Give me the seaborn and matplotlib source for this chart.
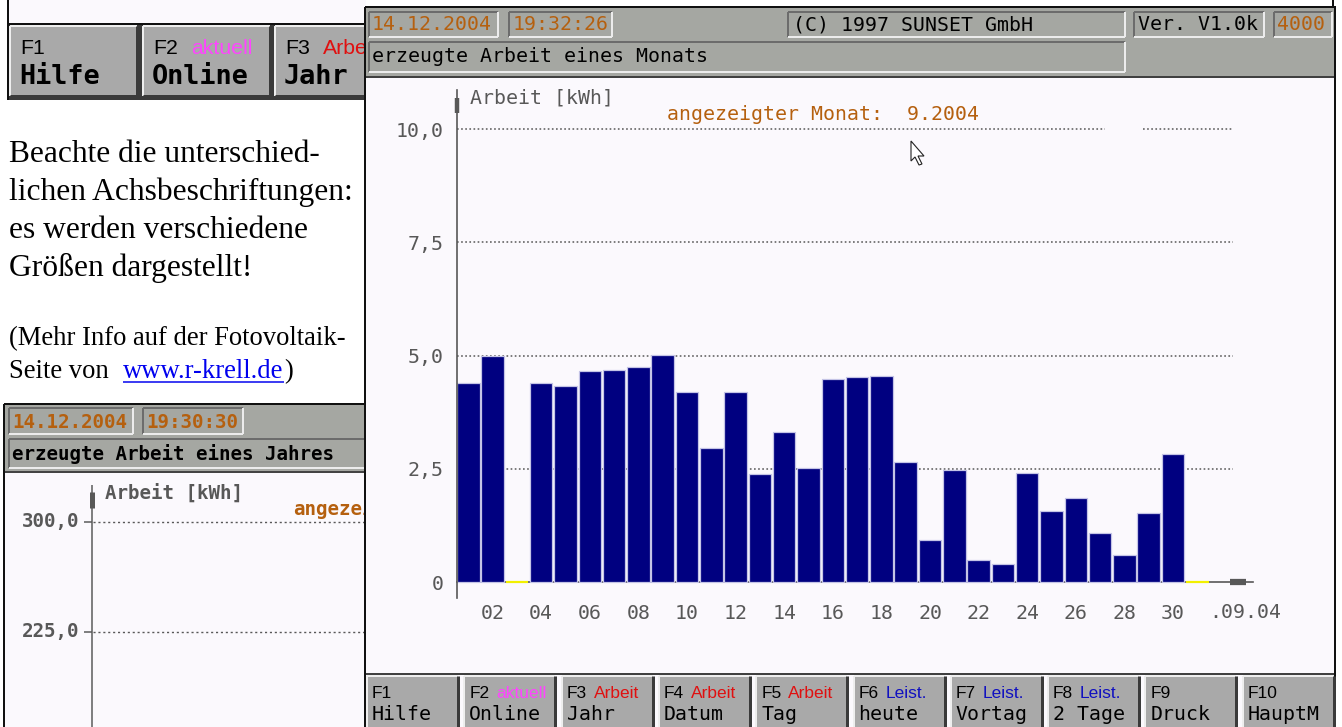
import numpy as np
import pandas as pd
import matplotlib
matplotlib.use("Agg")
import matplotlib.pyplot as plt
import seaborn as sns
from matplotlib.patches import Rectangle, Polygon
from matplotlib.lines import Line2D

# ---------------- data ----------------
days = [f"{d:02d}" for d in range(1, 32)]
kwh = [4.39, 4.99, 0.00, 4.39, 4.32, 4.65, 4.69, 4.75, 5.02, 4.19,
       2.95, 4.19, 2.38, 3.32, 2.52, 4.48, 4.52, 4.55, 2.66, 0.92,
       2.47, 0.49, 0.39, 2.40, 1.56, 1.86, 1.09, 0.59, 1.53, 2.83, 0.00]
y_ticks = [0, 2.5, 5.0, 7.5, 10.0]
y_tick_labels = ["0", "2,5", "5,0", "7,5", "10,0"]
month_suffix = ".09.04"
y_title = "Arbeit [kWh]"
shown_month = "angezeigter Monat:  9.2004"

fkeys = ["F1", "F2", "F3", "F4", "F5", "F6", "F7", "F8", "F9", "F10"]
fsub = ["", "aktuell", "Arbeit", "Arbeit", "Arbeit", "Leist.", "Leist.", "Leist.", "", ""]
fnames = ["Hilfe", "Online", "Jahr", "Datum", "Tag", "heute", "Vortag", "2 Tage", "Druck", "HauptM"]

left_lines = ["Beachte die unterschied-", "lichen Achsbeschriftungen:",
              "es werden verschiedene", "Größen dargestellt!"]

# ---------------- style ----------------
W, H = 1342, 727
HEADER_GRAY = "#a5a7a2"
BUTTON_GRAY = "#a9a9a9"
ORANGE = "#b5600f"
AXIS_GRAY = "#585858"
SCREEN_BG = "#fbf9fd"
NAVY = "#000080"
MONO = "DejaVu Sans Mono"
SANS = "Liberation Sans"
SERIF = "Liberation Serif"
PT = 0.72  # px -> pt at dpi 100

sns.set_style("white")
plt.rcParams["font.family"] = ["DejaVu Sans Mono", "DejaVu Sans"]

fig = plt.figure(figsize=(W / 100, H / 100), dpi=100)
fig.patch.set_facecolor("white")


def fx(x):
    return x / W


def fy(y):
    return 1 - y / H


def rect(x0, y0, x1, y1, fc, ec="none", lw=0, z=-5):
    fig.add_artist(Rectangle((fx(x0), fy(y1)), (x1 - x0) / W, (y1 - y0) / H,
                             transform=fig.transFigure, facecolor=fc,
                             edgecolor=ec, linewidth=lw * PT, zorder=z))


def line(x0, y0, x1, y1, c, lw=1, z=-4, ls="-"):
    fig.add_artist(Line2D([fx(x0), fx(x1)], [fy(y0), fy(y1)],
                          transform=fig.transFigure, color=c,
                          linewidth=lw * PT, zorder=z, linestyle=ls,
                          solid_capstyle="butt"))


def text(x, y, s, size, color="black", family=MONO, weight="normal",
         ha="left", va="center", z=3):
    fig.text(fx(x), fy(y), s, fontsize=size, color=color, family=family,
             fontweight=weight, ha=ha, va=va, zorder=z)


def field(x0, y0, x1, y1, z):
    rect(x0, y0, x1, y1, HEADER_GRAY, z=z)
    line(x0, y0, x1, y0, "#6c6c6c", 2, z=z + 0.1)
    line(x0, y0, x0, y1, "#6c6c6c", 2, z=z + 0.1)
    line(x0, y1, x1, y1, "#ececec", 2, z=z + 0.1)
    line(x1, y0, x1, y1, "#ececec", 2, z=z + 0.1)


def button(x0, y0, x1, y1, z):
    rect(x0, y0, x1, y1, BUTTON_GRAY, z=z)
    line(x0, y0, x1, y0, "#eeeeee", 2, z=z + 0.1)
    line(x0, y0, x0, y1, "#eeeeee", 2, z=z + 0.1)
    line(x0, y1, x1, y1, "#3a3a3a", 3, z=z + 0.1)
    line(x1, y0, x1, y1, "#3a3a3a", 3, z=z + 0.1)


# ---------------- left page: top screenshot strip ----------------
ZL = -20
rect(8, 0, 366, 24, SCREEN_BG, z=ZL)
line(8, 0, 8, 100, "#111111", 2, z=ZL + 0.5)
line(8, 24, 366, 24, "#111111", 2, z=ZL + 0.5)
rect(8, 25, 366, 100, "#3a3a3a", z=ZL)
top_btn_x = [10, 143, 275]
sub_cols_top = ["black", "#ff44ff", "#e01010"]
for k, bx in enumerate(top_btn_x):
    button(bx, 26, bx + 127, 96, ZL + 1)
    text(bx + 10, 48, fkeys[k], 15.3, family=SANS, z=ZL + 2)
    if fsub[k]:
        text(bx + 48, 48, fsub[k], 15.3, color=sub_cols_top[k], family=SANS, z=ZL + 2)
    text(bx + 9, 77, fnames[k], 19.4, weight="bold", z=ZL + 2)

# body text
baselines = [162, 200, 238, 276]
for s, b in zip(left_lines, baselines):
    text(9, b, s, 22.7, family=SERIF, va="baseline", z=ZL + 2)
text(9, 345, "(Mehr Info auf der Fotovoltaik-", 19.2, family=SERIF, va="baseline", z=ZL + 2)
text(9, 378, "Seite von", 19.2, family=SERIF, va="baseline", z=ZL + 2)
text(123, 378, "www.r-krell.de", 19.2, color="#0000ee", family=SERIF, va="baseline", z=ZL + 2)
text(284, 378, ")", 19.2, family=SERIF, va="baseline", z=ZL + 2)
line(123, 382, 284, 382, "#0000ee", 1.5, z=ZL + 2)

# ---------------- left page: bottom screenshot ----------------
ZB = -18
rect(4, 404, 366, 473, HEADER_GRAY, z=ZB)
rect(5, 473, 366, 727, SCREEN_BG, z=ZB)
line(4, 404, 366, 404, "#111111", 2, z=ZB + 0.5)
line(4, 404, 4, 727, "#111111", 2, z=ZB + 0.5)
line(5, 472, 366, 472, "#444444", 2, z=ZB + 0.5)
field(9, 408, 133, 434, ZB + 1)
field(143, 408, 243, 434, ZB + 1)
field(9, 439, 380, 468, ZB + 1)
text(12, 422, "14.12.2004", 13.8, color=ORANGE, weight="bold", z=ZB + 2)
text(146, 422, "19:30:30", 13.8, color=ORANGE, weight="bold", z=ZB + 2)
text(12, 454, "erzeugte Arbeit eines Jahres", 13.8, weight="bold", z=ZB + 2)
line(92, 485, 92, 727, AXIS_GRAY, 1.5, z=ZB + 1)
line(92, 492, 92, 508, AXIS_GRAY, 5, z=ZB + 1)
text(105, 493, y_title, 13.8, color=AXIS_GRAY, weight="bold", z=ZB + 2)
text(293, 509, "angezeigter", 13.8, color=ORANGE, weight="bold", z=ZB + 2)
for lab, yy in [("300,0", 522), ("225,0", 632)]:
    text(79, yy, lab, 13.8, color=AXIS_GRAY, weight="bold", ha="right", z=ZB + 2)
    line(84, yy, 92, yy, AXIS_GRAY, 1.5, z=ZB + 1)
    line(93, yy, 366, yy, AXIS_GRAY, 1.4, z=ZB + 1, ls=(0, (1.5, 2.0)))

# ---------------- main window ----------------
ZM = -10
rect(365, 7, 1336, 727, SCREEN_BG, z=ZM)
rect(366, 8, 1335, 77, HEADER_GRAY, z=ZM + 0.2)
line(366, 77, 1335, 77, "#404040", 2, z=ZM + 0.5)
line(366, 674, 1335, 674, "#404040", 2, z=ZM + 0.5)
line(365, 7, 1336, 7, "#111111", 2, z=ZM + 1)
line(365, 7, 365, 727, "#111111", 2, z=ZM + 1)
line(1335, 7, 1335, 727, "#111111", 2, z=ZM + 1)
line(1333, 0, 1333, 7, "#111111", 2, z=ZM + 1)

field(369, 12, 498, 37, ZM + 1)
field(509, 12, 612, 37, ZM + 1)
field(788, 12, 1125, 37, ZM + 1)
field(1134, 12, 1264, 37, ZM + 1)
field(1274, 12, 1332, 37, ZM + 1)
field(369, 42, 1125, 72, ZM + 1)
text(372, 25, "14.12.2004", 14.3, color=ORANGE, z=ZM + 2)
text(513, 25, "19:32:26", 14.3, color=ORANGE, z=ZM + 2)
text(793, 25, "(C) 1997 SUNSET GmbH", 14.3, z=ZM + 2)
text(1138, 25, "Ver. V1.0k", 14.3, z=ZM + 2)
text(1277, 25, "4000", 14.3, color=ORANGE, z=ZM + 2)
text(372, 57, "erzeugte Arbeit eines Monats", 14.3, z=ZM + 2)

sub_colors = {"aktuell": "#ff44ff", "Arbeit": "#e01010", "Leist.": "#1010c0"}
for k in range(len(fkeys)):
    bx = 367 + 97.3 * k
    button(bx, 676, bx + 91, 730, ZM + 1)
    text(bx + 5, 693, fkeys[k], 12.5, family=SANS, z=ZM + 2)
    if fsub[k]:
        text(bx + 32, 693, fsub[k], 12.5, color=sub_colors[fsub[k]], family=SANS, z=ZM + 2)
    text(bx + 5, 715, fnames[k], 14.3, z=ZM + 2)

text(470, 98, y_title, 14.3, color=AXIS_GRAY, z=ZM + 2)
text(667, 114, shown_month, 14.3, color=ORANGE, z=ZM + 2)

# ---------------- bar chart ----------------
X0P, X1P, Y0P, Y1P = 457, 1253, 90, 598
ax = fig.add_axes([fx(X0P), fy(Y1P), (X1P - X0P) / W, (Y1P - Y0P) / H])
ax.set_facecolor("none")

df = pd.DataFrame({"day": days, "kwh": kwh})
sns.barplot(data=df, x="day", y="kwh", order=days, color=NAVY, saturation=1,
            width=0.93, edgecolor="#c4c4e6", linewidth=0.9, ax=ax, zorder=2)
for p in ax.patches:
    if p.get_height() == 0:
        p.set_edgecolor("#f2f000")
        p.set_linewidth(1.6)

PX_PER_DAY = 24.3
PX_PER_KWH = 45.3
xmin = (X0P - 468.3) / PX_PER_DAY
xmax = (X1P - 468.3) / PX_PER_DAY
ymin = (582 - Y1P) / PX_PER_KWH
ymax = (582 - Y0P) / PX_PER_KWH
ax.set_xlim(xmin, xmax)
ax.set_ylim(ymin, ymax)

grid_end = (1233 - 468.3) / PX_PER_DAY
gap0, gap1 = (1105 - 468.3) / PX_PER_DAY, (1143 - 468.3) / PX_PER_DAY
dots = (0, (1.1, 1.6))
for v in y_ticks[1:]:
    if v == y_ticks[-1]:
        ax.hlines(v, xmin, gap0, colors=AXIS_GRAY, linestyles=dots, lw=1.1, zorder=0)
        ax.hlines(v, gap1, grid_end, colors=AXIS_GRAY, linestyles=dots, lw=1.1, zorder=0)
    else:
        ax.hlines(v, xmin, grid_end, colors=AXIS_GRAY, linestyles=dots, lw=1.1, zorder=0)

for s in ["top", "right"]:
    ax.spines[s].set_visible(False)
ax.spines["left"].set_color(AXIS_GRAY)
ax.spines["left"].set_linewidth(1.2)
ax.spines["bottom"].set_position(("data", 0))
ax.spines["bottom"].set_color(AXIS_GRAY)
ax.spines["bottom"].set_linewidth(1.2)
ax.spines["bottom"].set_zorder(1)

# axis arrows
ax.plot([xmin, xmin], [(582 - 113) / PX_PER_KWH, (582 - 98) / PX_PER_KWH],
        color=AXIS_GRAY, lw=3.2, solid_capstyle="butt", clip_on=False, zorder=3)
ax.plot([(1230 - 468.3) / PX_PER_DAY, (1246 - 468.3) / PX_PER_DAY], [0, 0],
        color=AXIS_GRAY, lw=4.5, solid_capstyle="butt", clip_on=False, zorder=3)

ax.set_xticks(range(len(days)))
ax.set_xticklabels([d if i % 2 == 1 else "" for i, d in enumerate(days)])
ax.set_yticks(y_ticks)
ax.set_yticklabels(y_tick_labels)
ax.tick_params(axis="x", direction="out", length=5, width=1.1, color=AXIS_GRAY,
               labelcolor=AXIS_GRAY, labelsize=14.3, pad=11)
ax.tick_params(axis="y", direction="out", length=5.8, width=1.1, color=AXIS_GRAY,
               labelcolor=AXIS_GRAY, labelsize=14.3, pad=4)
for lab in ax.get_xticklabels() + ax.get_yticklabels():
    lab.set_family(MONO)
ax.set_xlabel("")
ax.set_ylabel("")
ax.text((1245 - 468.3) / PX_PER_DAY, (598 - 613) / (Y1P - Y0P), month_suffix,
        transform=ax.get_xaxis_transform(), ha="center", va="center",
        fontsize=14.3, color=AXIS_GRAY, family=MONO)

# mouse pointer
cur = [(911, 141), (911, 161), (915, 157), (919, 165), (922, 164), (918, 156), (924, 156)]
fig.add_artist(Polygon([(fx(a), fy(b)) for a, b in cur], closed=True,
                       transform=fig.transFigure, facecolor="white",
                       edgecolor="#222222", linewidth=0.8, zorder=6))

fig.savefig("out.png", dpi=100, facecolor=fig.get_facecolor())
